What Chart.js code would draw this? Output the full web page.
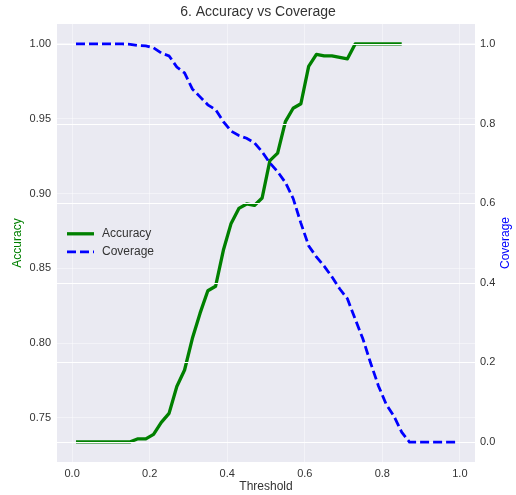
<!DOCTYPE html>
<html>
<head>
<meta charset="utf-8">
<script src="https://cdn.jsdelivr.net/npm/chart.js@4.4.1/dist/chart.umd.min.js"></script>
<style>
  html, body { margin: 0; padding: 0; background: #fff; }
  #wrap { width: 516px; height: 495px; }
</style>
</head>
<body>
<div id="wrap"><canvas id="accChart" width="516" height="495"></canvas></div>
<script>
const thresholds = [0.01, 0.03, 0.05, 0.07, 0.09, 0.11, 0.13, 0.15, 0.17, 0.19,
  0.21, 0.23, 0.25, 0.27, 0.29, 0.31, 0.33, 0.35, 0.37, 0.39,
  0.41, 0.43, 0.45, 0.47, 0.49, 0.51, 0.53, 0.55, 0.57, 0.59,
  0.61, 0.63, 0.65, 0.67, 0.69, 0.71, 0.73, 0.75, 0.77, 0.79,
  0.81, 0.83, 0.85, 0.87, 0.89, 0.91, 0.93, 0.95, 0.97, 0.99];

const accuracy = [0.734, 0.734, 0.734, 0.734, 0.734, 0.734, 0.734, 0.734, 0.736, 0.736,
  0.739, 0.747, 0.753, 0.771, 0.782, 0.803, 0.820, 0.835, 0.838, 0.862,
  0.880, 0.890, 0.893, 0.892, 0.897, 0.922, 0.927, 0.948, 0.957, 0.960,
  0.985, 0.993, 0.992, 0.992, 0.991, 0.990, 1.000, 1.000, 1.000, 1.000,
  1.000, 1.000, 1.000, null, null, null, null, null, null, null];

const coverage = [1.000, 1.000, 1.000, 1.000, 1.000, 1.000, 1.000, 0.999, 0.996, 0.995,
  0.990, 0.977, 0.970, 0.942, 0.927, 0.887, 0.867, 0.847, 0.835, 0.805,
  0.781, 0.770, 0.763, 0.752, 0.729, 0.701, 0.679, 0.652, 0.612, 0.550,
  0.493, 0.465, 0.442, 0.415, 0.385, 0.360, 0.309, 0.259, 0.198, 0.141,
  0.095, 0.065, 0.025, 0.000, 0.000, 0.000, 0.000, 0.000, 0.000, 0.000];

const xTicks = [0.0, 0.2, 0.4, 0.6, 0.8, 1.0];
const accTicks = [0.75, 0.80, 0.85, 0.90, 0.95, 1.00];
const covTicks = [0.0, 0.2, 0.4, 0.6, 0.8, 1.0];

const FONT = "'Liberation Sans', Arial, sans-serif";
const TEXT = '#333333';
const BG = '#EAEAF2';
const FAINT = 'rgba(255,255,255,0.45)';

const toPoints = ys => thresholds.map((x, i) => ({ x: x, y: ys[i] }));

// plot background
const bgPlugin = {
  id: 'bg',
  beforeDraw(chart) {
    const { ctx, chartArea: a } = chart;
    ctx.save();
    ctx.fillStyle = BG;
    ctx.fillRect(a.left, a.top, a.right - a.left, a.bottom - a.top);
    ctx.restore();
  }
};

// twin axis grid sits above the accuracy line, below coverage
const twinGrid = {
  id: 'twinGrid',
  afterDatasetDraw(chart, args) {
    if (args.index !== 0) return;
    const { ctx, chartArea: a } = chart;
    const s = chart.scales.y1;
    ctx.save();
    ctx.strokeStyle = '#ffffff';
    ctx.lineWidth = 1;
    s.ticks.forEach(t => {
      const y = Math.round(s.getPixelForValue(t.value)) + 0.5;
      ctx.beginPath();
      ctx.moveTo(a.left, y);
      ctx.lineTo(a.right, y);
      ctx.stroke();
    });
    ctx.restore();
  }
};

// right axis label reads bottom-to-top, like matplotlib
const rightTitle = {
  id: 'rightTitle',
  afterDraw(chart) {
    const { ctx, chartArea: a } = chart;
    const s = chart.scales.y1;
    ctx.save();
    ctx.translate(s.right - 10, (a.top + a.bottom) / 2);
    ctx.rotate(-Math.PI / 2);
    ctx.font = '12px ' + FONT;
    ctx.fillStyle = '#0000FF';
    ctx.textAlign = 'center';
    ctx.textBaseline = 'middle';
    ctx.fillText('Coverage', 0, 0);
    ctx.restore();
  }
};

// legend inside the plot, middle left
const innerLegend = {
  id: 'innerLegend',
  afterDraw(chart) {
    const { ctx, chartArea: a } = chart;
    const y0 = a.top + (a.bottom - a.top) * 0.479;
    ctx.save();
    ctx.font = '12px ' + FONT;
    ctx.textBaseline = 'middle';
    chart.data.datasets.forEach((ds, i) => {
      const y = y0 + i * 18;
      ctx.strokeStyle = ds.borderColor;
      ctx.lineWidth = ds.borderWidth;
      ctx.setLineDash(ds.borderDash || []);
      ctx.beginPath();
      ctx.moveTo(a.left + 10, y);
      ctx.lineTo(a.left + 37, y);
      ctx.stroke();
      ctx.setLineDash([]);
      ctx.fillStyle = TEXT;
      ctx.fillText(ds.label, a.left + 45, y);
    });
    ctx.restore();
  }
};

const ctx = document.getElementById('accChart').getContext('2d');
const chart = new Chart(ctx, {
  type: 'line',
  data: {
    datasets: [{
      label: 'Accuracy',
      data: toPoints(accuracy),
      yAxisID: 'y',
      borderColor: '#008000',
      borderWidth: 3.3,
      borderJoinStyle: 'round',
      pointRadius: 0,
      tension: 0,
      order: 1
    }, {
      label: 'Coverage',
      data: toPoints(coverage),
      yAxisID: 'y1',
      borderColor: '#0000FF',
      borderWidth: 2.8,
      borderDash: [9, 4],
      pointRadius: 0,
      tension: 0,
      order: 0
    }]
  },
  options: {
    responsive: false,
    animation: false,
    layout: { padding: 0 },
    plugins: {
      legend: { display: false },
      tooltip: { enabled: false },
      title: {
        display: true,
        text: '6. Accuracy vs Coverage',
        color: TEXT,
        font: { family: FONT, size: 14, weight: 'normal' },
        padding: { top: 4, bottom: 3.2 }
      }
    },
    scales: {
      x: {
        type: 'linear',
        min: -0.039,
        max: 1.039,
        afterBuildTicks: s => { s.ticks = xTicks.map(v => ({ value: v })); },
        afterFit: s => { s.height = 33; },
        ticks: {
          color: TEXT,
          padding: 5,
          font: { family: FONT, size: 11 },
          callback: v => v.toFixed(1)
        },
        grid: { color: FAINT, drawTicks: false },
        border: { display: false },
        title: {
          display: true,
          text: 'Threshold',
          color: TEXT,
          font: { family: FONT, size: 12 },
          padding: { top: 0, bottom: 1.5 }
        }
      },
      y: {
        position: 'left',
        min: 0.7205,
        max: 1.0133,
        afterBuildTicks: s => { s.ticks = accTicks.map(v => ({ value: v })); },
        afterFit: s => { s.width = 57; },
        ticks: {
          color: TEXT,
          padding: 6,
          font: { family: FONT, size: 11 },
          callback: v => v.toFixed(2)
        },
        grid: { color: FAINT, drawTicks: false },
        border: { display: false },
        title: {
          display: true,
          text: 'Accuracy',
          color: '#008000',
          font: { family: FONT, size: 12 },
          padding: { top: 10, bottom: 0 }
        }
      },
      y1: {
        position: 'right',
        min: -0.05,
        max: 1.05,
        afterBuildTicks: s => { s.ticks = covTicks.map(v => ({ value: v })); },
        afterFit: s => { s.width = 41; },
        ticks: {
          color: TEXT,
          padding: 5,
          font: { family: FONT, size: 11 },
          callback: v => v.toFixed(1)
        },
        grid: { display: false, drawTicks: false },
        border: { display: false },
        title: { display: false }
      }
    }
  },
  plugins: [bgPlugin, twinGrid, rightTitle, innerLegend]
});
</script>
</body>
</html>
